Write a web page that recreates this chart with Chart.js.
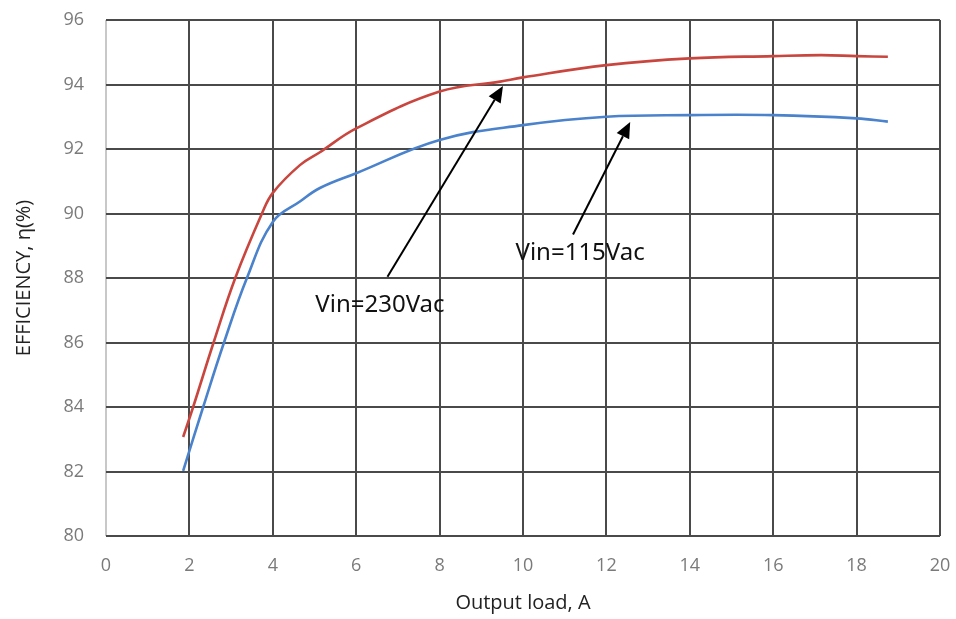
<!DOCTYPE html>
<html>
<head>
<meta charset="utf-8">
<script src="https://cdn.jsdelivr.net/npm/chart.js@4"></script>
<style>
  html, body { margin: 0; padding: 0; background: #fff; }
  #wrap { width: 956px; height: 619px; }
</style>
</head>
<body>
<div id="wrap"><canvas id="effChart"></canvas></div>
<script>
// Vin=230Vac curve
const load230 = [1.85, 2.09, 2.58, 3.1, 3.74, 4.0, 4.65, 5.13, 6, 8, 9.45, 10, 12, 14, 16, 17.15, 18, 18.75];
const eff230  = [83.07, 84, 86, 88, 90, 90.64, 91.5, 91.9, 92.64, 93.78, 94.09, 94.22, 94.6, 94.81, 94.88, 94.91, 94.88, 94.86];
// Vin=115Vac curve
const load115 = [1.85, 2.33, 2.83, 3.38, 4.0, 4.65, 5.13, 6, 8, 10, 12, 14, 16, 18, 18.75];
const eff115  = [82.02, 84, 86, 88, 89.74, 90.37, 90.79, 91.25, 92.28, 92.74, 93.0, 93.05, 93.05, 92.95, 92.85];

const xTicks = [0, 2, 4, 6, 8, 10, 12, 14, 16, 18, 20];
const yTicks = [80, 82, 84, 86, 88, 90, 92, 94, 96];

// annotation labels and arrows (data coords)
const labels = ["Vin=230Vac", "Vin=115Vac"];
const labelX = [6.57, 11.37];
const labelY = [87.16, 88.78];
const arrowFromX = [6.75, 11.2];
const arrowFromY = [88.04, 89.35];
const arrowToX = [9.52, 12.57];
const arrowToY = [93.95, 92.84];

const toPts = (xs, ys) => xs.map((x, i) => ({ x: x, y: ys[i] }));

const annotate = {
  id: "annotate",
  afterDatasetsDraw(chart) {
    const { ctx, scales: { x, y } } = chart;
    ctx.save();
    ctx.strokeStyle = "#000";
    ctx.fillStyle = "#000";
    ctx.lineWidth = 2;
    for (let i = 0; i < labels.length; i++) {
      const x0 = x.getPixelForValue(arrowFromX[i]), y0 = y.getPixelForValue(arrowFromY[i]);
      const x1 = x.getPixelForValue(arrowToX[i]), y1 = y.getPixelForValue(arrowToY[i]);
      const a = Math.atan2(y1 - y0, x1 - x0);
      const head = 16, w = 7;
      const bx = x1 - head * Math.cos(a), by = y1 - head * Math.sin(a);
      ctx.beginPath();
      ctx.moveTo(x0, y0);
      ctx.lineTo(bx, by);
      ctx.stroke();
      ctx.beginPath();
      ctx.moveTo(x1, y1);
      ctx.lineTo(bx + w * Math.sin(a), by - w * Math.cos(a));
      ctx.lineTo(bx - w * Math.sin(a), by + w * Math.cos(a));
      ctx.closePath();
      ctx.fill();
      ctx.font = "24px 'Noto Sans'";
      ctx.textAlign = "center";
      ctx.textBaseline = "middle";
      ctx.fillStyle = "#111";
      ctx.fillText(labels[i], x.getPixelForValue(labelX[i]), y.getPixelForValue(labelY[i]));
      ctx.fillStyle = "#000";
    }
    ctx.restore();
  }
};

new Chart(document.getElementById("effChart").getContext("2d"), {
  type: "line",
  data: {
    datasets: [
      { label: "Vin=230Vac", data: toPts(load230, eff230), borderColor: "#c9463f", borderWidth: 2.6, pointRadius: 0, tension: 0.4 },
      { label: "Vin=115Vac", data: toPts(load115, eff115), borderColor: "#4a82cc", borderWidth: 2.6, pointRadius: 0, tension: 0.4 }
    ]
  },
  options: {
    responsive: true,
    maintainAspectRatio: false,
    animation: false,
    layout: { padding: { top: 20, right: 16, left: 0, bottom: 0 } },
    plugins: { legend: { display: false }, tooltip: { enabled: false } },
    scales: {
      x: {
        type: "linear", min: 0, max: 20,
        afterBuildTicks: s => { s.ticks = xTicks.map(v => ({ value: v })); },
        afterFit: s => { s.height = 83; s.paddingLeft = 0; s.paddingRight = 0; },
        border: { display: false },
        grid: { color: c => c.tick.value === 0 ? "#c8c8c8" : "#4a4a4a", lineWidth: 2, drawTicks: false },
        ticks: { color: "#7a7a7a", font: { family: "'Open Sans'", size: 18 }, padding: 19 },
        title: { display: true, text: "Output load, A", color: "#222", font: { family: "'Open Sans'", size: 20 }, padding: { top: 0 } }
      },
      y: {
        type: "linear", min: 80, max: 96,
        afterBuildTicks: s => { s.ticks = yTicks.map(v => ({ value: v })); },
        afterFit: s => { s.width = 106; s.paddingTop = 0; s.paddingBottom = 0; },
        border: { display: false },
        grid: { color: "#4a4a4a", lineWidth: 2, drawTicks: false },
        ticks: { color: "#7a7a7a", font: { family: "'Open Sans'", size: 18 }, padding: 22 },
        title: { display: true, text: "EFFICIENCY, η(%)", color: "#222", font: { family: "'Open Sans'", size: 20 }, padding: { top: 12, bottom: 4 } }
      }
    }
  },
  plugins: [annotate]
});
</script>
</body>
</html>
